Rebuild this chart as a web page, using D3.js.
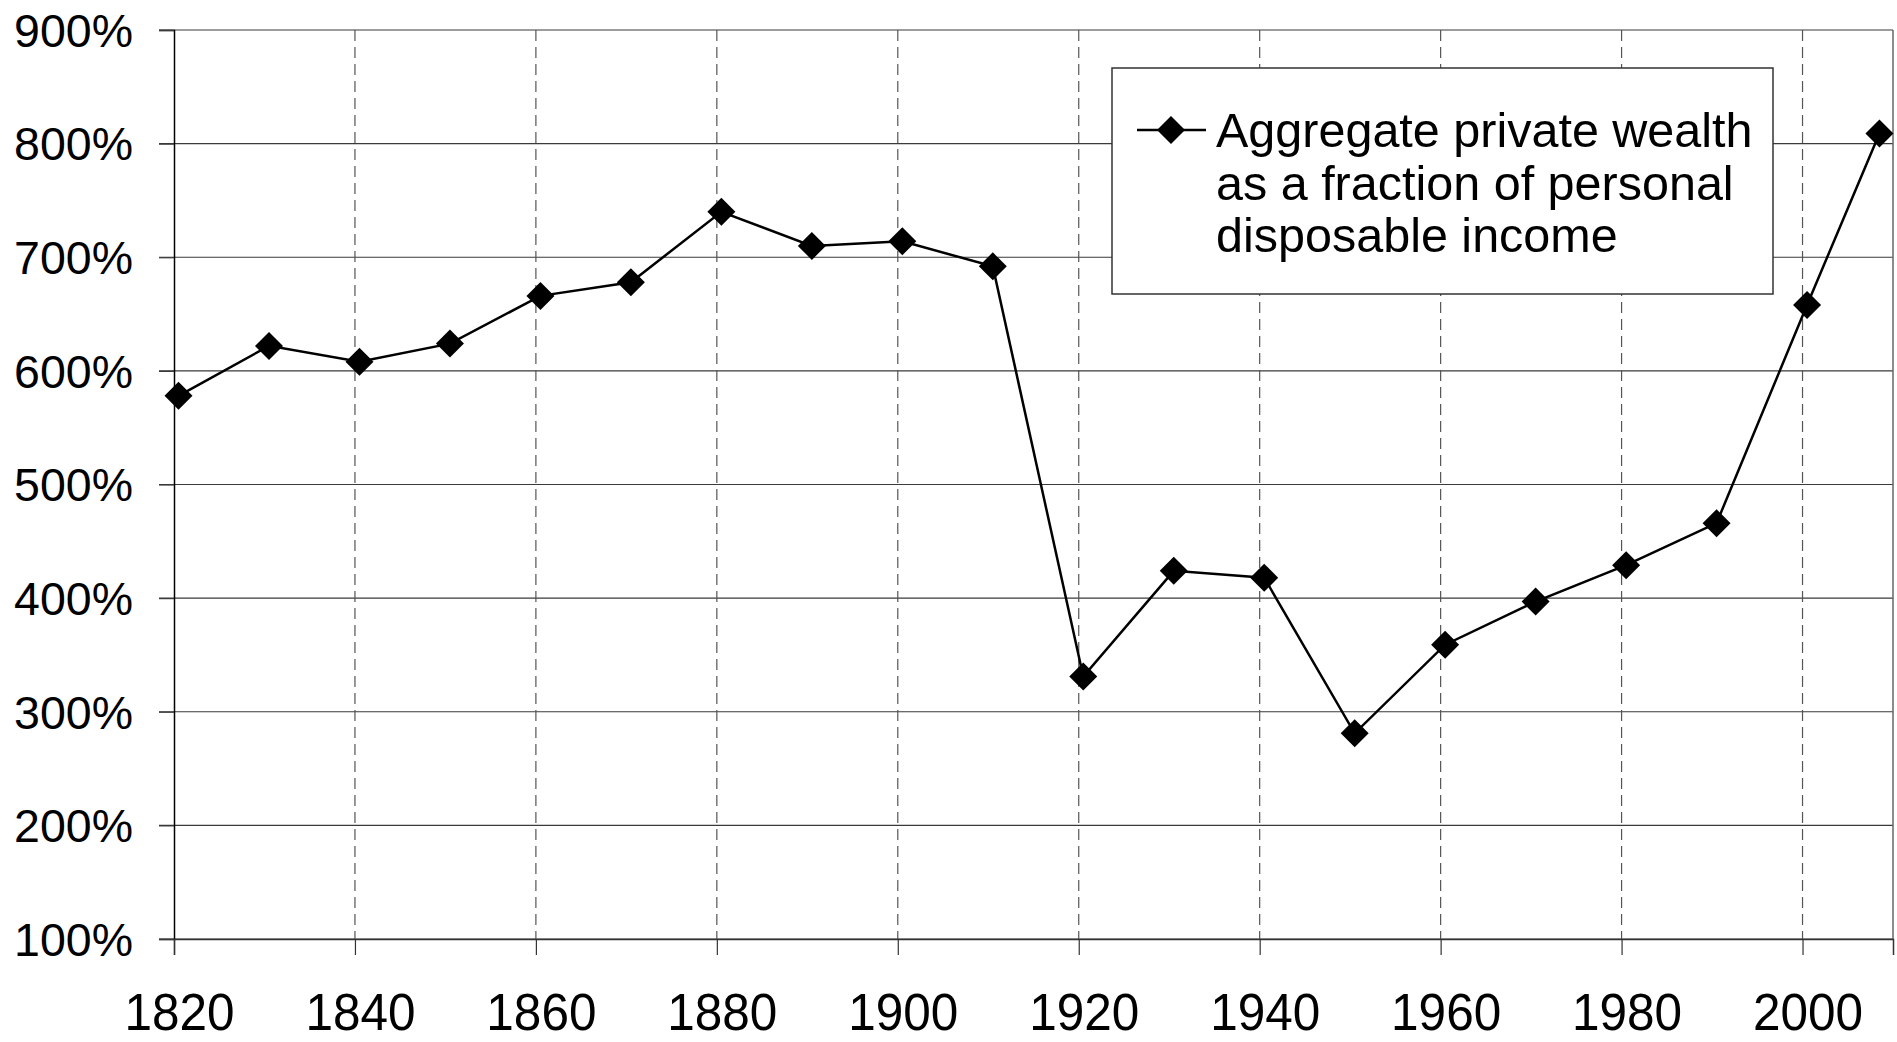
<!DOCTYPE html>
<html>
<head>
<meta charset="utf-8">
<script src="https://cdn.jsdelivr.net/npm/d3@7"></script>
<style>
  body { margin: 0; background: #fff; }
  svg { display: block; font-family: "Liberation Sans", Arial, sans-serif; }
</style>
</head>
<body>
<svg id="chart" width="1897" height="1042"></svg>
<script>
// data
const years = [1820, 1830, 1840, 1850, 1860, 1870, 1880, 1890, 1900, 1910,
               1920, 1930, 1940, 1950, 1960, 1970, 1980, 1990, 2000, 2008];
const wealth = [578, 622, 608, 624, 666, 678, 740, 710, 714, 692,
                331, 424, 418, 281, 359, 397, 429, 466, 658, 809];
const xTicks = [1820, 1840, 1860, 1880, 1900, 1920, 1940, 1960, 1980, 2000];
const yTicks = [100, 200, 300, 400, 500, 600, 700, 800, 900];
const legendLines = ["Aggregate private wealth", "as a fraction of personal", "disposable income"];

const svg = d3.select("#chart");
const plotLeft = 174, plotRight = 1893, plotTop = 30, plotBottom = 939;

const x = d3.scaleLinear().domain([1820, 2010]).range([plotLeft, plotRight]);
const y = d3.scaleLinear().domain([100, 900]).range([plotBottom, plotTop]);

// horizontal grid lines
svg.append("g")
  .selectAll("line")
  .data(yTicks)
  .join("line")
  .attr("x1", plotLeft - 15)
  .attr("x2", plotRight)
  .attr("y1", d => y(d))
  .attr("y2", d => y(d))
  .attr("stroke", "#3a3a3a")
  .attr("stroke-width", 1.2);

// vertical dashed grid lines
svg.append("g")
  .selectAll("line")
  .data(xTicks.slice(1))
  .join("line")
  .attr("x1", d => x(d))
  .attr("x2", d => x(d))
  .attr("y1", plotTop)
  .attr("y2", plotBottom)
  .attr("stroke", "#555")
  .attr("stroke-width", 1.2)
  .attr("stroke-dasharray", "11,6");

// right border
svg.append("line")
  .attr("x1", plotRight).attr("x2", plotRight)
  .attr("y1", plotTop).attr("y2", plotBottom)
  .attr("stroke", "#666").attr("stroke-width", 1.5);

// y axis
const yAxis = svg.append("g")
  .attr("transform", `translate(${plotLeft},0)`)
  .call(d3.axisLeft(y).tickValues(yTicks).tickSize(15).tickPadding(26).tickFormat(d => d + "%"));
yAxis.select(".domain").attr("stroke", "#000").attr("stroke-width", 1.5);
yAxis.selectAll(".tick line").attr("stroke", "#3a3a3a").attr("stroke-width", 1.2);
yAxis.selectAll("text")
  .attr("font-size", 46.5)
  .attr("font-family", "'Liberation Sans', Arial, sans-serif")
  .attr("fill", "#000")
  .attr("dy", "0.35em");

// x axis
const xAxis = svg.append("g")
  .attr("transform", `translate(0,${plotBottom})`)
  .call(d3.axisBottom(x).tickValues(xTicks).tickSize(16).tickFormat(d3.format("d")));
xAxis.select(".domain").attr("stroke", "#333").attr("stroke-width", 1.5);
xAxis.selectAll(".tick line").attr("stroke", "#333").attr("stroke-width", 1.2);
xAxis.selectAll("text")
  .attr("font-size", 49.5)
  .attr("font-family", "'Liberation Sans', Arial, sans-serif")
  .attr("fill", "#000")
  .attr("y", 0)
  .attr("dy", 0)
  .attr("transform", "translate(5,91) scale(1,1.03)");

// legend
const legend = svg.append("g");
legend.append("rect")
  .attr("x", 1112).attr("y", 68)
  .attr("width", 661).attr("height", 226)
  .attr("fill", "#fff")
  .attr("stroke", "#333").attr("stroke-width", 1.5);
legend.append("line")
  .attr("x1", 1137).attr("x2", 1206)
  .attr("y1", 130).attr("y2", 130)
  .attr("stroke", "#000").attr("stroke-width", 2.5);

const diamond = d3.symbol(d3.symbolSquare, 392);
legend.append("path")
  .attr("d", diamond())
  .attr("transform", "translate(1171,130) rotate(45)")
  .attr("fill", "#000");
legend.append("g")
  .selectAll("text")
  .data(legendLines)
  .join("text")
  .attr("x", 1216)
  .attr("y", (d, i) => 147 + i * 52.7)
  .attr("font-size", 48.5)
  .attr("fill", "#000")
  .text(d => d);

// series (points sit half a year right of the year gridline)
const pts = years.map((yr, i) => [x(yr + 0.5), y(wealth[i])]);
svg.append("path")
  .attr("d", d3.line()(pts))
  .attr("fill", "none")
  .attr("stroke", "#000")
  .attr("stroke-width", 2.5);
svg.append("g")
  .selectAll("path")
  .data(pts)
  .join("path")
  .attr("d", diamond())
  .attr("transform", d => `translate(${d[0]},${d[1]}) rotate(45)`)
  .attr("fill", "#000");
</script>
</body>
</html>
